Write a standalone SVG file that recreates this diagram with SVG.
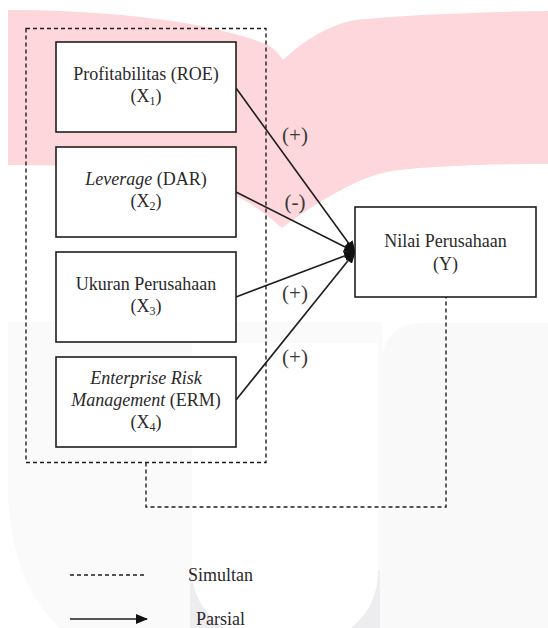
<svg xmlns="http://www.w3.org/2000/svg" width="548" height="628" viewBox="0 0 548 628">
  <style>
    .box { fill: #ffffff; stroke: #1e1e1e; stroke-width: 1.6; }
    .dash { fill: none; stroke: #1e1e1e; stroke-width: 1.4; stroke-dasharray: 4 3; }
    .arrow { fill: none; stroke: #1e1e1e; stroke-width: 1.6; }
    text { font-family: 'Liberation Serif', 'DejaVu Serif', serif; }
    .t { font-size: 18px; fill: #2a2a2a; text-anchor: middle; }
    .lbl { font-size: 21px; fill: #3a3a3a; text-anchor: middle; }
    .leg { font-size: 18px; fill: #2a2a2a; text-anchor: start; }
    .sub { font-size: 12px; }
    .it { font-style: italic; }
  </style>
  <defs>
    <marker id="ah" markerWidth="12" markerHeight="10" refX="11" refY="5" orient="auto" markerUnits="userSpaceOnUse">
      <path d="M0,0 L12,5 L0,10 Z" fill="#111111"/>
    </marker>
  </defs>

  <!-- background watermark -->
  <g id="background">
    <rect x="0" y="0" width="548" height="628" fill="#ffffff"/>
    <path d="M8,10 C90,10 200,18 266,44 C274,48 279,54 283,60 C300,44 325,26 355,20 C420,14 490,12 548,11 L548,164 C490,164 430,166 392,171 C360,176 320,200 282,228 C262,210 245,200 236,196 C200,175 150,167 100,166 L8,165 Z" fill="#fdd7db"/>
    <path d="M8,322 L382,322 L382,628 L60,628 C30,600 12,560 8,500 Z" fill="#fafafa"/>
    <path d="M382,361 C382,338 398,323 420,323 L548,323 L548,628 L382,628 Z" fill="#f9f9fa"/>
    <path d="M190,570 L380,570 L380,628 L190,628 Z" fill="#ededef"/>
    <path d="M192,343 L378,343 L378,570 C378,600 365,620 340,636 L235,636 C210,620 192,600 192,570 Z" fill="#ffffff"/>
  </g>

  <g id="connectors">
    <path class="dash" d="M146,462.5 L146,507 L446,507 L446,297"/>
    <line class="arrow" x1="236" y1="88" x2="355" y2="252" marker-end="url(#ah)"/>
    <line class="arrow" x1="236" y1="192" x2="355" y2="252" marker-end="url(#ah)"/>
    <line class="arrow" x1="236" y1="297" x2="355" y2="252" marker-end="url(#ah)"/>
    <line class="arrow" x1="236" y1="400" x2="355" y2="252" marker-end="url(#ah)"/>
    <text class="lbl" x="295" y="142">(+)</text>
    <text class="lbl" x="295" y="209">(-)</text>
    <text class="lbl" x="295" y="300">(+)</text>
    <text class="lbl" x="295" y="364">(+)</text>
  </g>

  <g id="simultan-group">
    <rect class="dash" x="26" y="28.5" width="240" height="434"/>
  </g>

  <g id="x1">
    <rect class="box" x="56" y="42" width="180" height="90"/>
    <text class="t" x="146" y="80">Profitabilitas (ROE)</text>
    <text class="t" x="146" y="102">(X<tspan class="sub" dy="3">1</tspan><tspan dy="-3">)</tspan></text>
  </g>

  <g id="x2">
    <rect class="box" x="56" y="147" width="180" height="90"/>
    <text class="t" x="146" y="185"><tspan class="it">Leverage</tspan> (DAR)</text>
    <text class="t" x="146" y="207">(X<tspan class="sub" dy="3">2</tspan><tspan dy="-3">)</tspan></text>
  </g>

  <g id="x3">
    <rect class="box" x="56" y="252" width="180" height="90"/>
    <text class="t" x="146" y="290">Ukuran Perusahaan</text>
    <text class="t" x="146" y="312">(X<tspan class="sub" dy="3">3</tspan><tspan dy="-3">)</tspan></text>
  </g>

  <g id="x4">
    <rect class="box" x="56" y="357" width="180" height="90"/>
    <text class="t it" x="146" y="384">Enterprise Risk</text>
    <text class="t" x="146" y="406"><tspan class="it">Management</tspan> (ERM)</text>
    <text class="t" x="146" y="428">(X<tspan class="sub" dy="3">4</tspan><tspan dy="-3">)</tspan></text>
  </g>

  <g id="y">
    <rect class="box" x="355" y="207" width="181" height="90"/>
    <text class="t" x="445.5" y="247">Nilai Perusahaan</text>
    <text class="t" x="445.5" y="270">(Y)</text>
  </g>

  <g id="legend">
    <line class="dash" x1="70" y1="575" x2="147" y2="575"/>
    <text class="leg" x="188" y="581">Simultan</text>
    <line class="arrow" x1="70" y1="619" x2="147" y2="619" marker-end="url(#ah)"/>
    <text class="leg" x="196" y="625">Parsial</text>
  </g>
</svg>
